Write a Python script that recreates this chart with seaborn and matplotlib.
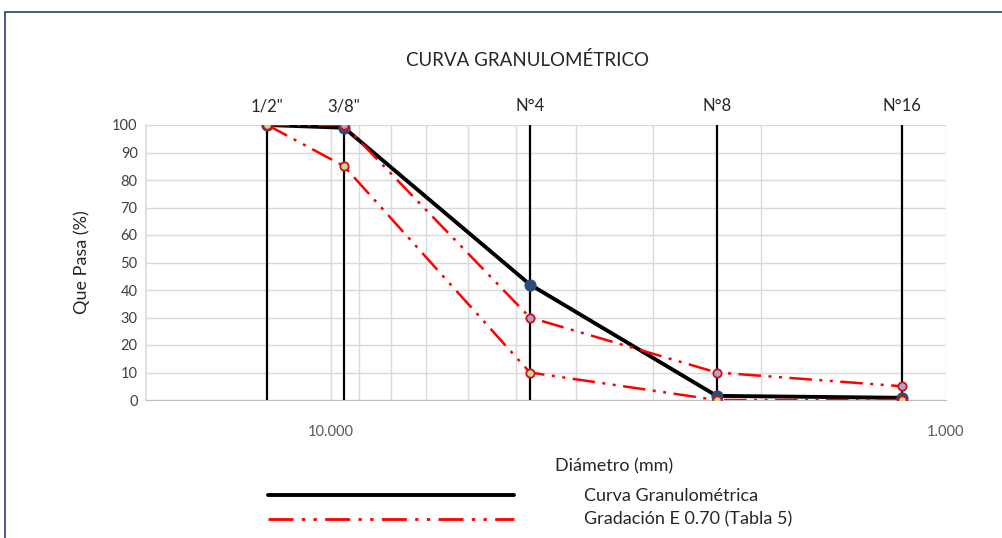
import matplotlib
matplotlib.use("Agg")
import matplotlib.pyplot as plt
import matplotlib.patches as mpatches
from matplotlib.lines import Line2D
from matplotlib.ticker import FixedLocator, NullFormatter
import pandas as pd
import seaborn as sns

# sieve data
tamices = ['1/2"', '3/8"', 'N°4', 'N°8', 'N°16']
diametro = [12.7, 9.525, 4.75, 2.36, 1.18]
curva = [100, 99, 42, 1.5, 0.8]
lim_sup = [100, 100, 30, 10, 5]
lim_inf = [100, 85, 10, 0, 0]

sns.set_style("white")
plt.rcParams['font.family'] = ['Lato', 'DejaVu Sans']

fig = plt.figure(figsize=(10.03, 5.38), dpi=100)
ax = fig.add_axes([146 / 1003, 1 - 400 / 538, 800 / 1003, 275 / 538])

# outer frame
fig.patches.append(mpatches.Rectangle((5 / 1003, -0.1), 1.2, 1.1 - 12 / 538,
                                      transform=fig.transFigure, fill=False,
                                      edgecolor='#2b3f6b', linewidth=1.2))

df = pd.DataFrame({'d': diametro, 'curva': curva, 'sup': lim_sup, 'inf': lim_inf})

# vertical sieve lines
for d, t in zip(diametro, tamices):
    ax.plot([d, d], [0, 100], color='black', lw=1.6, zorder=2)
    ax.text(d, 104, t, ha='center', va='bottom', fontsize=12)

dash = (0, (9, 3, 1.2, 3, 1.2, 3))
sns.lineplot(data=df, x='d', y='sup', sort=False, ax=ax, color='red', lw=1.8,
             marker='o', markersize=6, markerfacecolor='#b3a2c7', markeredgecolor='#d0101a',
             markeredgewidth=1.3, zorder=3)
sns.lineplot(data=df, x='d', y='inf', sort=False, ax=ax, color='red', lw=1.8,
             marker='o', markersize=6, markerfacecolor='#c9d59a', markeredgecolor='#d0101a',
             markeredgewidth=1.3, zorder=3)
sns.lineplot(data=df, x='d', y='curva', sort=False, ax=ax, color='black', lw=2.8,
             marker='o', markersize=8, markerfacecolor='#2e4a78', markeredgecolor='#2e4a78',
             zorder=4)
# red series on top like the reference
for ln in ax.lines[-3:-1]:
    ln.set_linestyle(dash)
    ln.set_zorder(5)

ax.set_xscale('log')
ax.set_xlim(20, 1)
ax.set_ylim(0, 100)
ax.set_yticks(range(0, 101, 10))
ax.xaxis.set_major_locator(FixedLocator([10, 1]))
ax.set_xticklabels(['10.000', '1.000'])
minors = [m for m in range(2, 10)]
ax.xaxis.set_minor_locator(FixedLocator(minors))
ax.xaxis.set_minor_formatter(NullFormatter())
ax.grid(True, which='both', color='#d9d9d9', lw=1)
ax.set_axisbelow(True)
ax.set_xlabel('')
ax.set_ylabel('')
for s in ax.spines.values():
    s.set_visible(False)
ax.spines['bottom'].set_visible(True)
ax.spines['bottom'].set_color('#bfbfbf')
ax.spines['left'].set_visible(True)
ax.spines['left'].set_color('#d9d9d9')
ax.spines['left'].set_linewidth(1.2)
ax.tick_params(axis='both', which='both', length=0, labelsize=10.5, colors='#404040')
ax.tick_params(axis='x', pad=18, colors='#595959')
ax.tick_params(axis='y', pad=6)

fig.text(528 / 1003, 1 - 60 / 538, 'CURVA GRANULOMÉTRICO', fontsize=13.5,
         ha='center', va='center')
fig.text(82 / 1003, 1 - 262 / 538, 'Que Pasa (%)', fontsize=13, rotation=90,
         ha='center', va='center')
fig.text(614 / 1003, 1 - 466 / 538, 'Diámetro (mm)', fontsize=13,
         ha='center', va='center')

handles = [Line2D([], [], color='black', lw=2.8),
           Line2D([], [], color='red', lw=2, linestyle=dash)]
fig.legend(handles, ['Curva Granulométrica', 'Gradación E 0.70 (Tabla 5)'],
           loc='upper left', bbox_to_anchor=(261 / 1003, 1 - 481 / 538), frameon=False,
           fontsize=13, handlelength=13.6, handletextpad=3.9, labelspacing=0.42,
           borderaxespad=0)

fig.savefig('out.png', dpi=100)
